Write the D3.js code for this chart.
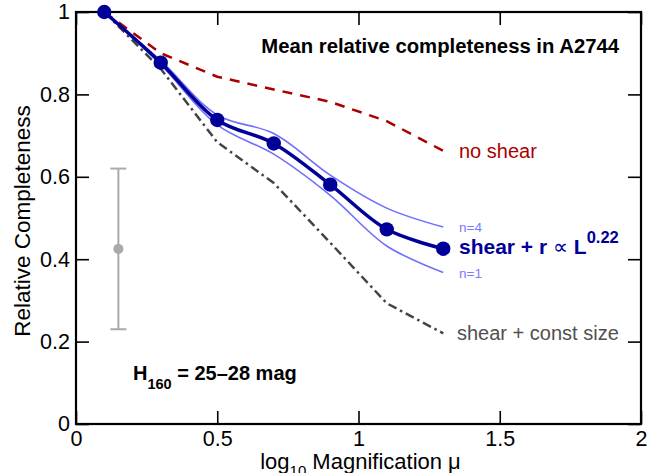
<!DOCTYPE html>
<html><head><meta charset="utf-8">
<script src="https://d3js.org/d3.v7.min.js"></script>
<style>body{margin:0;background:#fff}svg{display:block}text{font-family:"Liberation Sans",Arial,Helvetica,sans-serif}</style>
</head><body><svg id="c" width="662" height="473"></svg>
<script>
const magnification = [0.1, 0.3, 0.5, 0.7, 0.9, 1.1, 1.3];
const shearR = [1.0, 0.877, 0.738, 0.681, 0.581, 0.4725, 0.4255];
const shearRn4 = [1.0, 0.882, 0.750, 0.705, 0.604, 0.524, 0.478];
const shearRn1 = [1.0, 0.872, 0.726, 0.655, 0.555, 0.432, 0.368];
const noShear = [1.0, 0.90, 0.843, 0.812, 0.782, 0.735, 0.663];
const constSize = [1.0, 0.862, 0.684, 0.585, 0.44, 0.293, 0.22];
const errX = [0.15], errMid = [0.425], errLow = [0.23], errHigh = [0.62];
const xTicks = [0, 0.5, 1, 1.5, 2];
const yTicks = [0, 0.2, 0.4, 0.6, 0.8, 1];

const svg = d3.select("#c");
const L = 76, R = 641, T = 12, B = 424;
const x = d3.scaleLinear().domain([0, 2]).range([L, R]);
const y = d3.scaleLinear().domain([0, 1]).range([B, T]);
const tickLen = 13;

const fmt = d => d3.format("")(d);
const gB = svg.append("g").attr("transform", `translate(0,${B})`)
  .call(d3.axisBottom(x).tickValues(xTicks).tickSize(-tickLen).tickPadding(7).tickFormat(fmt));
const gT = svg.append("g").attr("transform", `translate(0,${T})`)
  .call(d3.axisTop(x).tickValues(xTicks).tickSize(-tickLen).tickFormat(""));
const gL = svg.append("g").attr("transform", `translate(${L},0)`)
  .call(d3.axisLeft(y).tickValues(yTicks).tickSize(-tickLen).tickPadding(6).tickFormat(fmt));
const gR = svg.append("g").attr("transform", `translate(${R},0)`)
  .call(d3.axisRight(y).tickValues(yTicks).tickSize(-tickLen).tickFormat(""));
[gB, gT, gL, gR].forEach(g => {
  g.select(".domain").remove();
  g.selectAll(".tick line").attr("stroke", "#000").attr("stroke-width", 1.6);
  g.selectAll("text").attr("font-size", 21.5).attr("fill", "#000").attr("font-family", "Liberation Sans, Arial, sans-serif");
});
gB.selectAll("text").attr("dy", "0.71em");
svg.append("rect").attr("x", L).attr("y", T).attr("width", R - L).attr("height", B - T)
  .attr("fill", "none").attr("stroke", "#000").attr("stroke-width", 2.2);

const xl = svg.append("text").attr("x", (L + R) / 2 + 2).attr("y", 469).attr("text-anchor", "middle").attr("font-size", 22);
xl.append("tspan").text("log");
xl.append("tspan").attr("font-size", 15).attr("dy", 7).text("10");
xl.append("tspan").attr("dy", -7).text(" Magnification μ");
svg.append("text").attr("transform", `translate(30,${(T + B) / 2 + 3}) rotate(-90)`)
  .attr("text-anchor", "middle").attr("font-size", 22.5).text("Relative Completeness");

const pts = arr => arr.map((v, i) => [magnification[i], v]);
const lin = d3.line().x(d => x(d[0])).y(d => y(d[1]));
const smooth = d3.line().x(d => x(d[0])).y(d => y(d[1])).curve(d3.curveCatmullRom.alpha(0.5));

errX.forEach((ex, i) => {
  const g = svg.append("g").attr("stroke", "#aaaaaa").attr("stroke-width", 2);
  g.append("line").attr("x1", x(ex)).attr("x2", x(ex)).attr("y1", y(errLow[i])).attr("y2", y(errHigh[i]));
  [errLow[i], errHigh[i]].forEach(v => g.append("line").attr("x1", x(ex) - 8).attr("x2", x(ex) + 8).attr("y1", y(v)).attr("y2", y(v)));
  svg.append("circle").attr("cx", x(ex)).attr("cy", y(errMid[i])).attr("r", 5).attr("fill", "#aaaaaa");
});

svg.append("path").attr("d", lin(pts(constSize))).attr("fill", "none").attr("stroke", "#444")
  .attr("stroke-width", 2.5).attr("stroke-dasharray", "9,4,2.5,4");
svg.append("path").attr("d", lin(pts(noShear))).attr("fill", "none").attr("stroke", "#aa0000")
  .attr("stroke-width", 2.5).attr("stroke-dasharray", "10,8");
[shearRn4, shearRn1].forEach(a => svg.append("path").attr("d", smooth(pts(a))).attr("fill", "none")
  .attr("stroke", "#6f6fff").attr("stroke-width", 1.6));
svg.append("path").attr("d", smooth(pts(shearR))).attr("fill", "none").attr("stroke", "#000099").attr("stroke-width", 3.5);
svg.selectAll("circle.m").data(pts(shearR)).enter().append("circle").attr("class", "m")
  .attr("cx", d => x(d[0])).attr("cy", d => y(d[1])).attr("r", 7.2).attr("fill", "#000099");

svg.append("text").attr("x", 619).attr("y", 53).attr("text-anchor", "end").attr("font-size", 20.3)
  .attr("font-weight", "bold").text("Mean relative completeness in A2744");
svg.append("text").attr("x", 459).attr("y", 158).attr("font-size", 20).attr("fill", "#aa0000").text("no shear");
svg.append("text").attr("x", 459).attr("y", 232).attr("font-size", 13.5).attr("fill", "#7a7aff").text("n=4");
svg.append("text").attr("x", 459).attr("y", 278).attr("font-size", 13.5).attr("fill", "#7a7aff").text("n=1");
const st = svg.append("text").attr("x", 459).attr("y", 254).attr("font-size", 21).attr("fill", "#000099").attr("font-weight", "bold");
st.append("tspan").text("shear + r ");
st.append("tspan").attr("font-weight", "normal").text("∝");
st.append("tspan").text(" L");
st.append("tspan").attr("font-size", 16.5).attr("dy", -11).text("0.22");
svg.append("text").attr("x", 457).attr("y", 340).attr("font-size", 20).attr("fill", "#505050").text("shear + const size");
const h = svg.append("text").attr("x", 133).attr("y", 380).attr("font-size", 20).attr("font-weight", "bold");
h.append("tspan").text("H");
h.append("tspan").attr("font-size", 14.5).attr("dy", 9).text("160");
h.append("tspan").attr("dy", -9).text(" = 25–28 mag");
</script></body></html>
